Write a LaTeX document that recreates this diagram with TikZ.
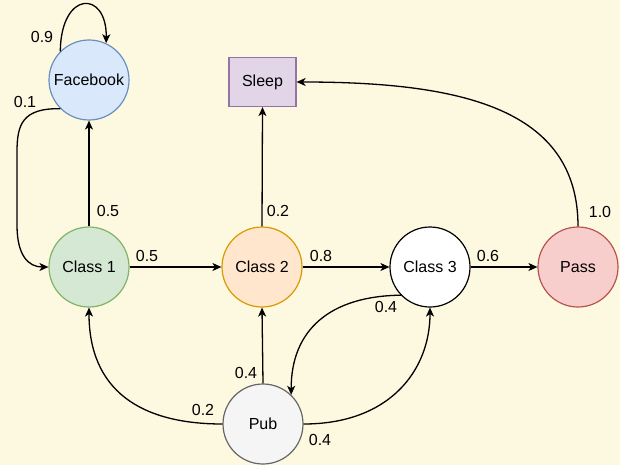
\documentclass[tikz,border=0pt]{standalone}
\usepackage{fontspec}
\setmainfont{Liberation Sans}
\usetikzlibrary{arrows.meta}
\definecolor{paper}{HTML}{FDF8E0}
\definecolor{fbfill}{HTML}{DAE8FC}\definecolor{fbline}{HTML}{6C8EBF}
\definecolor{cafill}{HTML}{D5E8D4}\definecolor{caline}{HTML}{82B366}
\definecolor{cbfill}{HTML}{FFE6CC}\definecolor{cbline}{HTML}{D79B00}
\definecolor{slfill}{HTML}{E1D5E7}\definecolor{slline}{HTML}{9673A6}
\definecolor{psfill}{HTML}{F8CECC}\definecolor{psline}{HTML}{B85450}
\definecolor{pbfill}{HTML}{F5F5F5}\definecolor{pbline}{HTML}{666666}
\begin{document}
\begin{tikzpicture}[x=1pt,y=-1pt,
  every node/.style={font=\fontsize{16}{19}\selectfont},
  state/.style={circle,minimum size=80pt,inner sep=0pt,line width=1.2pt},
  trans/.style={line width=1.3pt,-{Stealth[length=9pt,width=8pt,inset=2.5pt]}},
  prob/.style={inner sep=0pt}]
\fill[paper] (0,0) rectangle (620,465);
\useasboundingbox (0,0) rectangle (620,465);

% states
\node[state,fill=fbfill,draw=fbline] (fb) at (89,80) {Facebook};
\node[state,fill=cafill,draw=caline] (c1) at (89,267) {Class 1};
\node[state,fill=cbfill,draw=cbline] (c2) at (262,267) {Class 2};
\node[state,fill=white,draw=black] (c3) at (430,267) {Class 3};
\node[state,fill=psfill,draw=psline] (ps) at (578,267) {Pass};
\node[state,fill=pbfill,draw=pbline] (pub) at (263,424) {Pub};
\node[draw=slline,fill=slfill,line width=1.2pt,minimum width=67pt,minimum height=49pt,inner sep=0pt] (sl) at (262.5,82) {Sleep};

% transitions
\draw[trans] (fb.135) .. controls (61,-10) and (107,-10) .. (fb.65);
\draw[trans] (fb.225) .. controls (22,108) and (17,125) .. (17,152) -- (17,225)
  .. controls (17,255) and (28,267) .. (c1.west);
\draw[trans] (c1.north) -- (fb.south);
\draw[trans] (c1.east) -- (c2.west);
\draw[trans] (c2.north) -- (sl.south);
\draw[trans] (c2.east) -- (c3.west);
\draw[trans] (c3.east) -- (ps.west);
\draw[trans] (ps.north) .. controls (578,108) and (460,82) .. (sl.east);
\draw[trans] (c3.224) .. controls (330,296) and (291,330) .. (pub.46);
\draw[trans] (pub.north) -- (c2.south);
\draw[trans] (pub.west) .. controls (140,424) and (89,390) .. (c1.south);
\draw[trans] (pub.east) .. controls (390,424) and (430,370) .. (c3.south);

% probabilities
\node[prob] (p1) at (42,37) {0.9};
\node[prob] (p2) at (25,102) {0.1};
\node[prob] (p3) at (108,211) {0.5};
\node[prob] (p4) at (147,256) {0.5};
\node[prob] (p5) at (278,211) {0.2};
\node[prob] (p6) at (321,256) {0.8};
\node[prob] (p7) at (488,256) {0.6};
\node[prob] (p8) at (600,212) {1.0};
\node[prob] (p9) at (386,307) {0.4};
\node[prob] (p10) at (246,373) {0.4};
\node[prob] (p11) at (203,410) {0.2};
\node[prob] (p12) at (320,440) {0.4};
\end{tikzpicture}
\end{document}
